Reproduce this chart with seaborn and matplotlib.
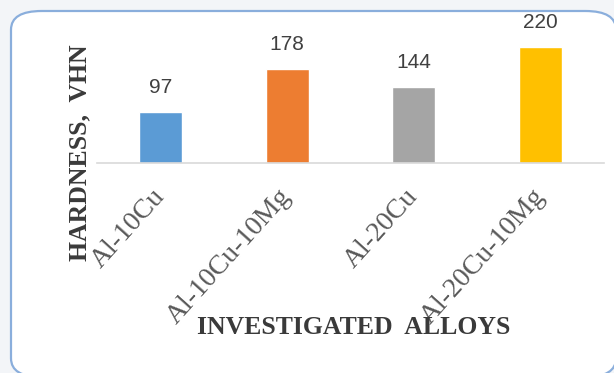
import numpy as np
import pandas as pd
import matplotlib
matplotlib.use("Agg")
import matplotlib.pyplot as plt
from matplotlib.patches import FancyBboxPatch
import seaborn as sns

alloys = ["Al-10Cu", "Al-10Cu-10Mg", "Al-20Cu", "Al-20Cu-10Mg"]
hardness = [97, 178, 144, 220]
colors = ["#5b9bd5", "#ed7d31", "#a5a5a5", "#ffc000"]

sns.set_style("white")
W, H = 614, 373
fig = plt.figure(figsize=(W / 100, H / 100), dpi=100, facecolor="#f3f5f8")

# rounded frame around the chart
box = FancyBboxPatch((11 / W, -4 / H), (W - 9) / W, (H - 7) / H,
                     boxstyle="round,pad=0,rounding_size=0.05",
                     transform=fig.transFigure, facecolor="white",
                     edgecolor="#8aaedc", linewidth=1.6, zorder=-5)
fig.patches.append(box)

ax = fig.add_axes([97 / W, (H - 163) / H, 507 / W, 132 / H])
ax.set_facecolor("none")
ax.set_zorder(2)
df = pd.DataFrame({"alloy": alloys, "hv": hardness})
sns.barplot(data=df, x="alloy", y="hv", hue="alloy", palette=colors,
            width=0.34, legend=False, ax=ax, saturation=1)
ax.set_xlim(-0.5, 3.5)
ax.set_ylim(0, 250)

for c in ax.containers:
    ax.bar_label(c, padding=11, fontsize=15, color="#404040", family="Liberation Sans")

sns.despine(ax=ax, left=True)
ax.spines["bottom"].set_color("#d9d9d9")
ax.spines["bottom"].set_linewidth(1.2)
ax.set_yticks([])
ax.tick_params(axis="x", length=0, pad=21)
for lbl in ax.get_xticklabels():
    lbl.set_rotation(48)
    lbl.set_rotation_mode("anchor")
    lbl.set_ha("right")
    lbl.set_va("center")
    lbl.set_fontsize(20)
    lbl.set_family("Liberation Serif")
    lbl.set_color("#595959")

fig.text(354 / W, 1 - 327 / H, "INVESTIGATED  ALLOYS", ha="center", va="center",
         fontsize=18.5, fontweight="bold", family="Liberation Serif", color="#3a3a3a")
fig.text(80 / W, 1 - 153 / H, "HARDNESS,  VHN", ha="center", va="center", rotation=90,
         fontsize=18.5, fontweight="bold", family="Liberation Serif", color="#3a3a3a")
ax.set_xlabel("")
ax.set_ylabel("")

fig.savefig("out.png", dpi=100, facecolor=fig.get_facecolor())
